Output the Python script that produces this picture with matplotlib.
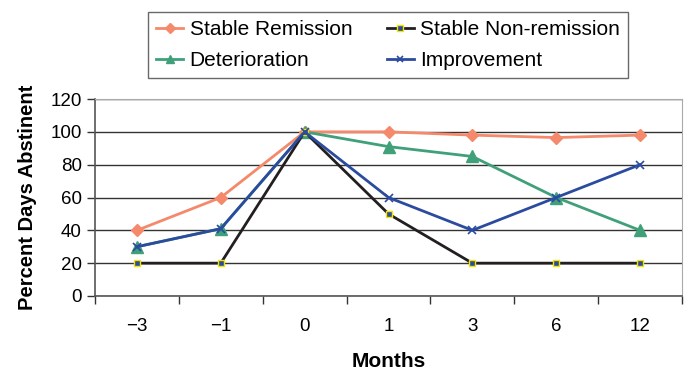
import matplotlib
matplotlib.use("Agg")
import matplotlib.pyplot as plt
import numpy as np

plt.rcParams['font.family'] = ['Liberation Sans', 'DejaVu Sans']

months = ['\u22123', '\u22121', '0', '1', '3', '6', '12']
stable_remission = [40, 60, 100, 100, 98, 96.5, 98]
stable_nonremission = [20, 20, 100, 50, 20, 20, 20]
deterioration = [30, 41, 100, 91, 85, 60, 40]
improvement = [30, 41, 100, 60, 40, 60, 80]

fig = plt.figure(figsize=(6.88, 3.71), dpi=100)
ax = fig.add_axes([95 / 688, 1 - 296 / 371, 587 / 688, 197 / 371])

x = np.arange(len(months))
ax.plot(x, stable_remission, color='#f4896b', lw=2, marker='D', ms=6,
        mfc='#f4896b', mec='#f4896b', label='Stable Remission', zorder=3)
ax.plot(x, deterioration, color='#3fa07a', lw=2, marker='^', ms=8,
        mfc='#3fa07a', mec='#3fa07a', label='Deterioration', zorder=4)
ax.plot(x, stable_nonremission, color='#231f20', lw=2, marker='s', ms=5,
        mfc='#2b4ba0', mec='#f2e500', mew=1, label='Stable Non-remission', zorder=5)
ax.plot(x, improvement, color='#2b4ba0', lw=2, marker='x', ms=6,
        mec='#2b4ba0', mew=1.2, label='Improvement', zorder=6)

ax.set_xlim(-0.5, len(months) - 0.5)
ax.set_ylim(0, 120)
ax.set_yticks(range(0, 121, 20))
ax.yaxis.grid(True, color='#333333', lw=1)
ax.set_axisbelow(True)

ax.set_xticks(x)
ax.set_xticklabels(months, fontsize=13.5)
ax.set_xticks(np.arange(-0.5, len(months)), minor=True)
ax.tick_params(axis='x', which='major', length=0, pad=16)
ax.tick_params(axis='x', which='minor', length=6, width=1, color='#333333')
ax.tick_params(axis='y', length=6, width=1, color='#333333', labelsize=13.5)

for side in ['top', 'right']:
    ax.spines[side].set_color('#aaaaaa')
for side in ['left', 'bottom']:
    ax.spines[side].set_color('#555555')
    ax.spines[side].set_linewidth(1.2)

ax.set_xlabel('Months', fontsize=15, fontweight='bold', labelpad=12)
ax.set_ylabel('Percent Days Abstinent', fontsize=14.5, fontweight='bold', labelpad=10)

leg = fig.legend(loc='upper left', bbox_to_anchor=(148 / 688, 1 - 12 / 371),
                 borderaxespad=0, ncol=2, fontsize=15, frameon=True, fancybox=False,
                 edgecolor='#444444', handlelength=1.3, columnspacing=1.65,
                 borderpad=0.4, labelspacing=0.55, handletextpad=0.3, markerscale=0.8)
leg.get_frame().set_linewidth(1)

plt.savefig('out.png', dpi=100)
